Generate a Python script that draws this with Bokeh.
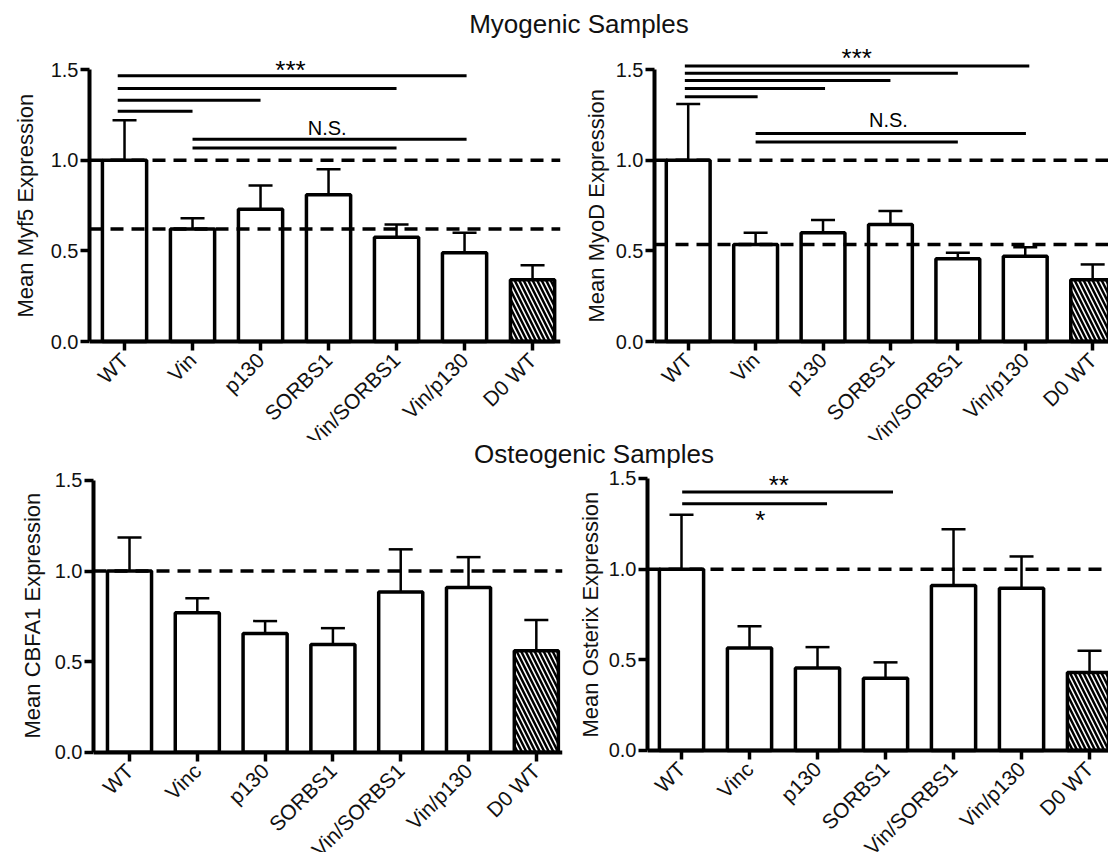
import math
from bokeh.plotting import figure
from bokeh.models import (ColumnDataSource, Whisker, TeeHead, Span, FixedTicker,
                          NumeralTickFormatter, Range1d, Title, Div)
from bokeh.layouts import column, row
from bokeh.core.properties import value
from bokeh.embed import file_html
from bokeh.resources import INLINE

FONT = "Liberation Sans"

# ---------------- data ----------------
myo_categories = ["WT", "Vin", "p130", "SORBS1", "Vin/SORBS1", "Vin/p130", "D0 WT"]
osteo_categories = ["WT", "Vinc", "p130", "SORBS1", "Vin/SORBS1", "Vin/p130", "D0 WT"]

myf5_mean = [1.0, 0.62, 0.73, 0.81, 0.575, 0.49, 0.34]
myf5_upper = [1.22, 0.68, 0.86, 0.95, 0.645, 0.60, 0.42]
myf5_lower = [0.775, 0.557, 0.60, 0.66, 0.50, 0.38, 0.26]
myf5_ref = [1.0, 0.62]

myod_mean = [1.0, 0.535, 0.60, 0.645, 0.457, 0.47, 0.34]
myod_upper = [1.31, 0.60, 0.67, 0.72, 0.49, 0.52, 0.425]
myod_lower = [0.69, 0.46, 0.535, 0.557, 0.425, 0.41, 0.254]
myod_ref = [1.0, 0.535]

cbfa1_mean = [1.0, 0.77, 0.655, 0.595, 0.884, 0.91, 0.56]
cbfa1_upper = [1.185, 0.85, 0.724, 0.685, 1.12, 1.077, 0.73]
cbfa1_lower = [0.815, 0.70, 0.58, 0.50, 0.65, 0.75, 0.40]
cbfa1_ref = [1.0]

osterix_mean = [1.0, 0.565, 0.455, 0.398, 0.91, 0.895, 0.43]
osterix_upper = [1.30, 0.685, 0.57, 0.486, 1.22, 1.07, 0.55]
osterix_lower = [0.70, 0.44, 0.337, 0.304, 0.60, 0.71, 0.33]
osterix_ref = [1.0]

# significance brackets (from group index, to group index, height)
myf5_sig_from = [-0.1, -0.1, -0.1, -0.1, 1, 1]
myf5_sig_to = [1, 2, 4, 5.03, 4, 5.03]
myf5_sig_height = [1.27, 1.33, 1.395, 1.465, 1.067, 1.115]
myf5_sig_labels = ["***", "N.S."]
myf5_sig_label_x = [2.44, 2.98]
myf5_sig_label_y = [1.50, 1.18]

myod_sig_from = [-0.05, -0.05, -0.05, -0.05, -0.05, 1, 1]
myod_sig_to = [1.03, 2.03, 3, 4, 5.06, 4, 5.01]
myod_sig_height = [1.35, 1.395, 1.44, 1.48, 1.52, 1.10, 1.147]
myod_sig_labels = ["***", "N.S."]
myod_sig_label_x = [2.5, 2.97]
myod_sig_label_y = [1.565, 1.222]

cbfa1_sig_from, cbfa1_sig_to, cbfa1_sig_height = [], [], []
cbfa1_sig_labels, cbfa1_sig_label_x, cbfa1_sig_label_y = [], [], []

osterix_sig_from = [0.01, 0.01]
osterix_sig_to = [2.14, 3.11]
osterix_sig_height = [1.36, 1.425]
osterix_sig_labels = ["**", "*"]
osterix_sig_label_x = [1.43, 1.16]
osterix_sig_label_y = [1.462, 1.27]


def make_panel(cats, mean, upper, lower, refs, sfrom, sto, sh, slabels, slx, sly,
               ylabel, width, height, bl, br, bt, xr, yr, loff, lstand):
    p = figure(width=width, height=height, x_range=Range1d(*xr), y_range=Range1d(*yr),
               output_backend="svg", toolbar_location=None, title=None,
               min_border_left=bl, min_border_right=br, min_border_top=bt,
               min_border_bottom=0, margin=0)
    p.xgrid.visible = False
    p.ygrid.visible = False
    p.outline_line_color = None
    p.background_fill_color = "white"
    p.border_fill_color = "white"

    idx = list(range(len(cats)))
    hatch = [" "] * (len(cats) - 1) + ["\\"]
    src = ColumnDataSource(dict(x=idx, top=mean, upper=upper, lower=lower, hatch=hatch))
    p.vbar(x="x", top="top", width=0.65, source=src, fill_color="white",
           line_color="black", line_width=3.5, hatch_pattern="hatch",
           hatch_color="black", hatch_scale=9, hatch_weight=2.5)
    w = Whisker(source=src, base="x", upper="upper", lower="lower",
                line_color="black", line_width=2.5,
                upper_head=TeeHead(size=24, line_width=2.5, line_color="black"),
                lower_head=TeeHead(size=24, line_width=2.5, line_color="black"))
    p.add_layout(w)

    for r in refs:
        p.add_layout(Span(location=r, dimension="width", line_color="black",
                          line_width=3.5, line_dash="13 8"))

    if sfrom:
        p.segment(x0=sfrom, y0=sh, x1=sto, y1=sh, line_color="black", line_width=3)
    if slabels:
        sizes = ["26px" if "*" in t else "20px" for t in slabels]
        tsrc = ColumnDataSource(dict(x=slx, y=sly, t=slabels, s=sizes))
        p.text(x="x", y="y", text="t", source=tsrc, text_align="center",
               text_baseline="middle", text_font=value(FONT),
               text_font_size="s", text_color="black")

    xa = p.xaxis[0]
    xa.ticker = FixedTicker(ticks=idx)
    xa.major_label_overrides = {i: c for i, c in enumerate(cats)}
    xa.major_label_orientation = math.pi / 4
    xa.fixed_location = 0
    ya = p.yaxis[0]
    ya.ticker = FixedTicker(ticks=[0, 0.5, 1.0, 1.5])
    ya.formatter = NumeralTickFormatter(format="0.0")
    ya.bounds = (0, 1.5)
    for a in (xa, ya):
        a.axis_line_width = 4
        a.axis_line_color = "black"
        a.major_tick_line_width = 3.5
        a.major_tick_line_color = "black"
        a.major_tick_out = 9
        a.major_tick_in = 0
        a.minor_tick_line_color = None
        a.major_label_text_font = FONT
        a.major_label_text_color = "#111111"
    xa.major_label_text_font_size = "21px"
    ya.major_label_text_font_size = "20px"
    xa.major_label_standoff = 6
    ya.major_label_standoff = 2

    p.add_layout(Title(text=ylabel, align="left", offset=loff, text_font=FONT,
                       text_font_size="22px", text_font_style="normal",
                       text_color="#111111", standoff=lstand), "left")
    return p


def title_div(text, h, pad_left, pad_top, lh):
    html = ('<div style="width:1108px;box-sizing:border-box;padding-left:%dpx;'
            'padding-top:%dpx;text-align:center;font-family:\'Liberation Sans\';'
            'font-size:26px;line-height:%dpx;color:#111;white-space:nowrap;">%s</div>'
            % (pad_left, pad_top, lh, text))
    return Div(text=html, width=1108, height=h, margin=0)


p1 = make_panel(myo_categories, myf5_mean, myf5_upper, myf5_lower, myf5_ref,
                myf5_sig_from, myf5_sig_to, myf5_sig_height,
                myf5_sig_labels, myf5_sig_label_x, myf5_sig_label_y,
                "Mean Myf5 Expression", 578, 400, 89, 18, 4,
                (-0.515, 6.411), (-0.546, 1.638), 123, 19)
p2 = make_panel(myo_categories, myod_mean, myod_upper, myod_lower, myod_ref,
                myod_sig_from, myod_sig_to, myod_sig_height,
                myod_sig_labels, myod_sig_label_x, myod_sig_label_y,
                "Mean MyoD Expression", 530, 400, 72, 0, 4,
                (-0.5, 6.235), (-0.546, 1.638), 118, 7)
p3 = make_panel(osteo_categories, cbfa1_mean, cbfa1_upper, cbfa1_lower, cbfa1_ref,
                cbfa1_sig_from, cbfa1_sig_to, cbfa1_sig_height,
                cbfa1_sig_labels, cbfa1_sig_label_x, cbfa1_sig_label_y,
                "Mean CBFA1 Expression", 565, 382, 93, 3, 0,
                (-0.531, 6.386), (-0.553, 1.555), 114, 14)
p4 = make_panel(osteo_categories, osterix_mean, osterix_upper, osterix_lower, osterix_ref,
                osterix_sig_from, osterix_sig_to, osterix_sig_height,
                osterix_sig_labels, osterix_sig_label_x, osterix_sig_label_y,
                "Mean Osterix Expression", 543, 382, 82, 0, 0,
                (-0.5, 6.279), (-0.5625, 1.544), 115, 6)

d1 = title_div("Myogenic Samples", 40, 50, 9, 30)
d2 = title_div("Osteogenic Samples", 30, 80, 0, 29)

layout = column(d1, row(p1, p2, margin=0), d2, row(p3, p4, margin=0), margin=0)

open("out.html", "w").write(file_html(layout, INLINE))
